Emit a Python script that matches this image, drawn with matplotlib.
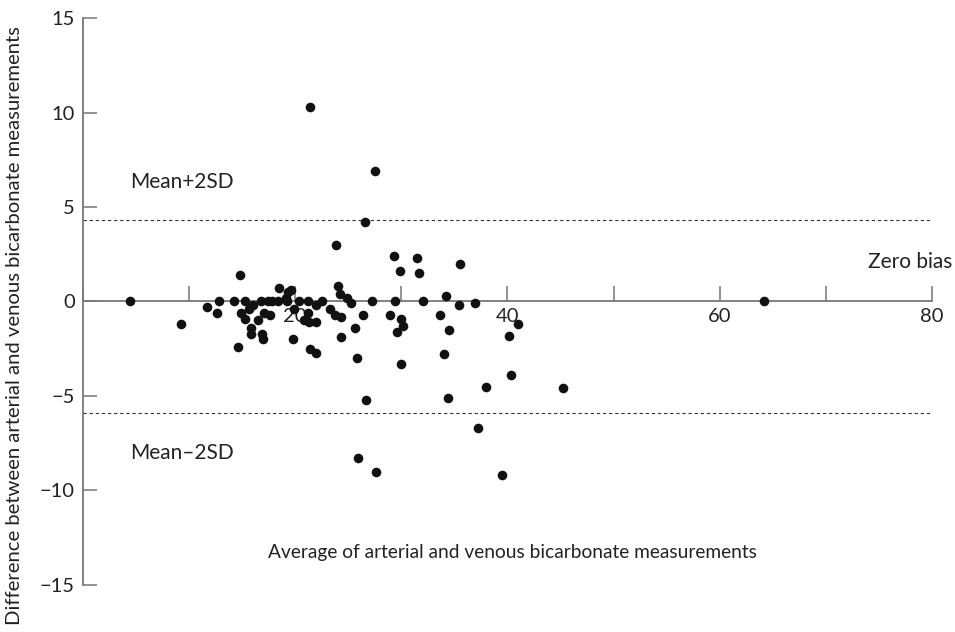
import matplotlib.pyplot as plt

plt.rcParams['font.family'] = ['Lato', 'DejaVu Sans']

# average of arterial and venous bicarbonate (x) and their difference (y)
avg = [4.4, 9.2, 11.7, 12.8, 12.6, 14.2, 14.8, 14.9, 15.3, 15.3,
       15.6, 16.0, 15.8, 15.8, 14.6, 16.5, 16.8, 17.4, 17.1, 16.9,
       17.0, 17.6, 17.8, 18.4, 18.5, 19.1, 19.2, 19.3, 19.6, 19.9,
       19.8, 20.4, 20.8, 21.2, 21.2, 21.3, 22.0, 22.0, 22.5, 21.4,
       22.0, 23.3, 23.7, 24.3, 23.8, 24.0, 24.2, 24.9, 25.3, 26.4,
       27.2, 25.6, 24.3, 25.8, 21.4, 27.5, 26.6, 29.3, 31.5, 29.9,
       31.7, 35.5, 29.4, 32.0, 34.2, 35.4, 36.9, 28.9, 30.0, 30.2,
       29.6, 33.6, 34.5, 30.0, 34.0, 40.1, 41.0, 40.3, 38.0, 45.2,
       34.4, 37.2, 39.5, 25.9, 27.6, 26.7, 64.2]
diff = [0.0, -1.2, -0.3, 0.0, -0.6, 0.0, 1.4, -0.6, 0.0, -0.9,
        -0.4, -0.2, -1.4, -1.7, -2.4, -1.0, 0.0, 0.0, -0.6, -1.7,
        -2.0, -0.7, 0.0, 0.0, 0.7, 0.2, 0.0, 0.5, 0.6, -0.4,
        -2.0, 0.0, -1.0, 0.0, -0.6, -1.1, -1.1, -0.2, 0.0, -2.5,
        -2.7, -0.4, -0.7, -0.8, 3.0, 0.8, 0.4, 0.2, -0.1, -0.7,
        0.0, -1.4, -1.9, -3.0, 10.3, 6.9, 4.2, 2.4, 2.3, 1.6,
        1.5, 2.0, 0.0, 0.0, 0.3, -0.2, -0.1, -0.7, -0.9, -1.3,
        -1.6, -0.7, -1.5, -3.3, -2.8, -1.8, -1.2, -3.9, -4.5, -4.6,
        -5.1, -6.7, -9.2, -8.3, -9.0, -5.2, 0.0]

upper = 4.3   # mean + 2SD
lower = -5.9  # mean - 2SD

fig = plt.figure(figsize=(9.55, 6.32), dpi=100)
ax = fig.add_axes([0.0869, 0.0744, 0.889, 0.8971])

ax.scatter(avg, diff, s=48, color='#111111', zorder=3, linewidths=0)

# limits of agreement
ax.plot([0, 80], [upper, upper], color='#333333', lw=0.8, ls=(0, (3, 2.5)))
ax.plot([0, 80], [lower, lower], color='#333333', lw=0.8, ls=(0, (3, 2.5)))

ax.set_xlim(0, 80)
ax.set_ylim(-15, 15)

ax.spines['top'].set_visible(False)
ax.spines['right'].set_visible(False)
ax.spines['bottom'].set_position(('data', 0))
ax.spines['left'].set_color('#777777')
ax.spines['bottom'].set_color('#777777')
ax.spines['left'].set_linewidth(1.3)
ax.spines['bottom'].set_linewidth(1.3)

ax.set_xticks(range(0, 81, 10))
ax.set_xticklabels(['', '', '20', '', '40', '', '60', '', '80'])
ax.set_yticks(range(-15, 16, 5))
ax.set_yticklabels(['\u221215', '\u221210', '\u22125', '0', '5', '10', '15'])
ax.tick_params(axis='x', direction='in', length=11, width=1.1, color='#777777',
               labelsize=14.5, labelcolor='#222222', pad=5)
ax.tick_params(axis='y', direction='in', length=10, width=1.1, color='#777777',
               labelsize=14.5, labelcolor='#222222', pad=6)

ax.text(4.4, 6.3, 'Mean+2SD', fontsize=15, color='#222222', va='center')
ax.text(4.4, -8.0, 'Mean\u20132SD', fontsize=15, color='#222222', va='center')
ax.text(81.9, 2.1, 'Zero bias', fontsize=15, color='#222222', va='center', ha='right',
        clip_on=False)
ax.text(40.5, -13.3, 'Average of arterial and venous bicarbonate measurements',
        fontsize=13.8, color='#222222', ha='center', va='center')

fig.text(15 / 955, 1 - 326 / 632,
         'Difference between arterial and venous bicarbonate measurements',
         rotation=90, fontsize=14.6, color='#222222', ha='center', va='center')

fig.savefig('out.png', dpi=100)
